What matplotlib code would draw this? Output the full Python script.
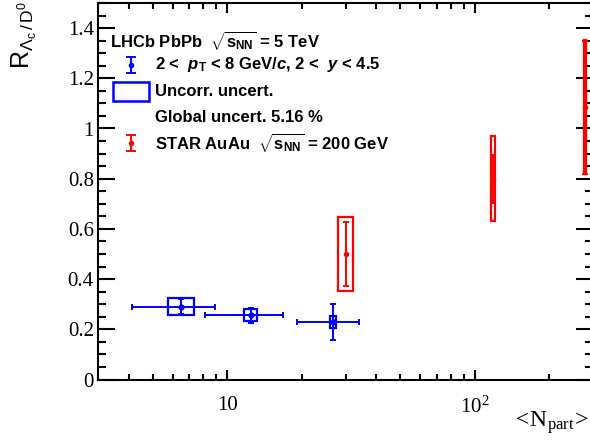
import matplotlib
matplotlib.use("Agg")
import matplotlib.pyplot as plt
from matplotlib.patches import Rectangle
from matplotlib.ticker import FixedLocator, FixedFormatter, MultipleLocator, NullFormatter, LogLocator
import numpy as np

plt.rcParams['mathtext.fontset'] = 'custom'
plt.rcParams['mathtext.rm'] = 'Liberation Sans'
plt.rcParams['mathtext.it'] = 'Liberation Sans:italic'
plt.rcParams['mathtext.bf'] = 'Liberation Sans:bold'
plt.rcParams['mathtext.sf'] = 'Liberation Sans:bold:italic'
plt.rcParams['font.family'] = ['Liberation Sans', 'DejaVu Sans']

# ---------------- data ----------------
lhcb_npart = [6.5, 12.4, 26.6]
lhcb_npart_lo = [4.13, 8.1, 19.1]
lhcb_npart_hi = [8.95, 16.8, 34.1]
lhcb_r = [0.290, 0.256, 0.229]
lhcb_stat = [0.031, 0.030, 0.071]
lhcb_syst = [0.035, 0.024, 0.024]
lhcb_box_lo = [5.74, 11.7, 25.9]
lhcb_box_hi = [7.36, 13.2, 27.4]

star_npart = [30.0, 118.6, 277.6]
star_r = [0.50, 0.80, 1.085]
star_stat = [0.126, 0.096, 0.265]
star_syst = [0.147, 0.169, 0.268]
star_box_lo = [27.9, 116.5, 275.5]
star_box_hi = [32.1, 121.0, 279.8]

xticks = [10, 100]
xticklabels = ['10', r'$\mathdefault{10^{2}}$']
yticks = [0, 0.2, 0.4, 0.6, 0.8, 1.0, 1.2, 1.4]
yticklabels = ['0', '0.2', '0.4', '0.6', '0.8', '1', '1.2', '1.4']

BLUE = (0, 0, 1)
RED = (1, 0, 0)

W, H = 590, 444
fig = plt.figure(figsize=(W / 100, H / 100), dpi=100)
ax = fig.add_axes([98 / W, (H - 379.5) / H, (593 - 98) / W, (379.5 - 3) / H])
ax.set_xscale('log')
ax.set_xlim(3.0, 300)
ax.set_ylim(0, 1.5)

for s in ax.spines.values():
    s.set_linewidth(1.5)

# LHCb boxes
for lo, hi, r, sy in zip(lhcb_box_lo, lhcb_box_hi, lhcb_r, lhcb_syst):
    ax.add_patch(Rectangle((lo, r - sy), hi - lo, 2 * sy, fill=False,
                           edgecolor=BLUE, linewidth=1.6, zorder=3))
# LHCb points
xerr = [np.array(lhcb_npart) - np.array(lhcb_npart_lo), np.array(lhcb_npart_hi) - np.array(lhcb_npart)]
ax.errorbar(lhcb_npart, lhcb_r, yerr=lhcb_stat, xerr=xerr, fmt='o', color=BLUE,
            markersize=3.5, elinewidth=1.4, capsize=2, capthick=1.4, zorder=4)

# STAR boxes
for lo, hi, r, sy in zip(star_box_lo, star_box_hi, star_r, star_syst):
    ax.add_patch(Rectangle((lo, r - sy), hi - lo, 2 * sy, fill=False,
                           edgecolor=RED, linewidth=1.6, zorder=3))
ax.errorbar(star_npart, star_r, yerr=star_stat, fmt='o', color=RED,
            markersize=3, elinewidth=1.4, capsize=2, capthick=1.4, zorder=4)

# ticks
ax.xaxis.set_major_locator(FixedLocator(xticks))
ax.xaxis.set_major_formatter(FixedFormatter(xticklabels))
ax.xaxis.set_minor_locator(LogLocator(base=10, subs=np.arange(2, 10)))
ax.xaxis.set_minor_formatter(NullFormatter())
ax.yaxis.set_major_locator(FixedLocator(yticks))
ax.yaxis.set_major_formatter(FixedFormatter(yticklabels))
ax.yaxis.set_minor_locator(MultipleLocator(0.05))

ax.tick_params(which='both', direction='in', top=True, right=True, width=1.5)
ax.tick_params(axis='x', which='major', length=7, pad=12)
ax.tick_params(axis='x', which='minor', length=4)
ax.tick_params(axis='y', which='major', length=12, pad=3)
ax.tick_params(axis='y', which='minor', length=6)
for lab in ax.get_xticklabels() + ax.get_yticklabels():
    lab.set_fontfamily('Liberation Serif')
    lab.set_fontsize(15)

# axis titles
fig.text(24 / W, 1 - 1 / H, r'R$_{\mathrm{\Lambda_{c}\,/\,D^{0}}}$', rotation=90,
         ha='center', va='top', fontsize=18, family='Liberation Sans')
fig.text(588.5 / W, (H - 427) / H, r'$\mathdefault{<\!N_{\mathdefault{part}}\!>}$',
         ha='right', va='baseline', fontsize=17, family='Liberation Serif')

# legend
fs = 12

def ftext(x, y, s, **kw):
    fig.text(x / W, 1 - y / H, s, fontsize=fs, fontweight='bold', va='center', ha='left', **kw)

ftext(110, 40, r'LHCb PbPb  $\sqrt{\mathbf{s_{NN}}}$ = 5 TeV')
ftext(155, 65, r'2 <  $\mathsf{p}_{\mathbf{T}}$ < 8 GeV/$\mathsf{c}$, 2 <  $\mathsf{y}$ < 4.5')
ftext(155, 92, 'Uncorr. uncert.')
ftext(155, 118, 'Global uncert. 5.16 %')
ftext(155, 143, r'STAR AuAu  $\sqrt{\mathbf{s_{NN}}}$ = 200 GeV')

# legend symbols
fig.add_artist(Rectangle((113 / W, 1 - 101 / H), 36 / W, 19 / H, fill=False,
                         edgecolor=BLUE, linewidth=1.8, transform=fig.transFigure))
for yy, col in [(65, BLUE), (143, RED)]:
    fig.add_artist(plt.Line2D([131 / W, 131 / W], [1 - (yy - 8) / H, 1 - (yy + 8) / H],
                              color=col, lw=1.4, transform=fig.transFigure))
    for dy in (-8, 8):
        fig.add_artist(plt.Line2D([127 / W, 135 / W], [1 - (yy + dy) / H] * 2,
                                  color=col, lw=1.4, transform=fig.transFigure))
    fig.add_artist(plt.Line2D([131 / W], [1 - yy / H], marker='o', markersize=3,
                              color=col, transform=fig.transFigure))

fig.savefig('out.png', dpi=100)
